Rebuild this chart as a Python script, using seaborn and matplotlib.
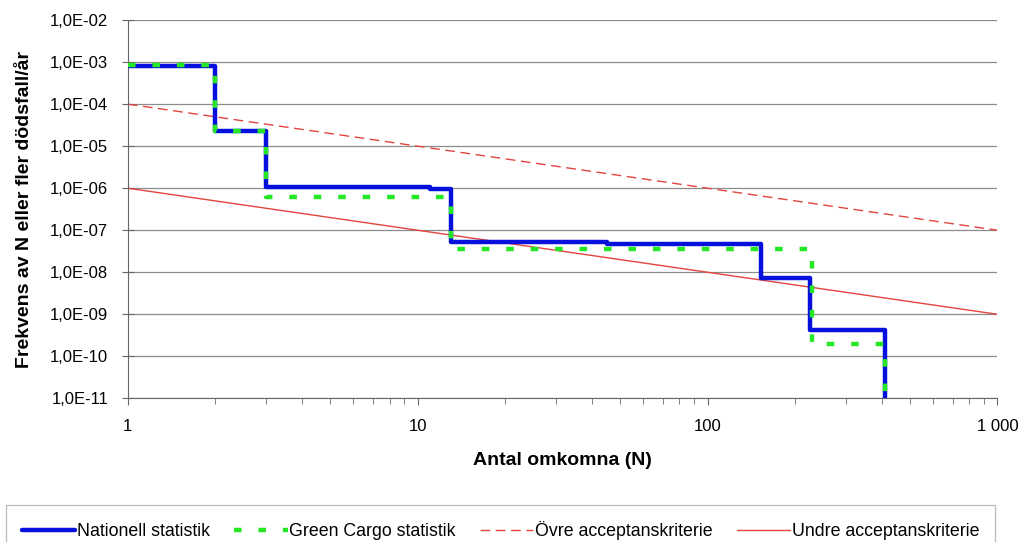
"""
plot.py — F/N-kurva: nationell statistik och Green Cargo mot acceptanskriterier.
"""

import matplotlib
matplotlib.use("Agg")
import matplotlib.pyplot as plt
from matplotlib.ticker import FixedLocator, FuncFormatter, LogLocator, NullFormatter
import pandas as pd
import seaborn as sns


# ─────────────────────────────────────────────────────────────────────────────
# DATA
# ─────────────────────────────────────────────────────────────────────────────

nationell_n = [1, 2, 3, 11, 13, 45, 153, 225, 408]
nationell_f = [8.0e-4, 2.3e-5, 1.05e-6, 9.5e-7, 5.2e-8, 4.6e-8, 7.5e-9, 4.3e-10, 1e-13]

green_n = [1, 2, 3, 13, 230, 408]
green_f = [8.5e-4, 2.3e-5, 6.2e-7, 3.6e-8, 2.0e-10, 1e-13]

kriterie_n = [1, 1000]
ovre_f = [1e-4, 1e-7]
undre_f = [1e-6, 1e-9]

x_ticks = [1, 10, 100, 1000]
x_ticklabels = ["1", "10", "100", "1 000"]
y_ticks = [10.0 ** e for e in range(-11, -1)]


# ─────────────────────────────────────────────────────────────────────────────
# PLOT
# ─────────────────────────────────────────────────────────────────────────────

sns.set_theme(style="white")
plt.rcParams["font.family"] = ["Liberation Sans", "DejaVu Sans"]
plt.rcParams["text.color"] = "black"
plt.rcParams["axes.labelcolor"] = "black"
plt.rcParams["xtick.labelcolor"] = "black"
plt.rcParams["ytick.labelcolor"] = "black"

fig, ax = plt.subplots(figsize=(10.22, 5.42), dpi=100)
fig.subplots_adjust(left=0.125, right=0.976, top=0.963, bottom=0.265)

nat = pd.DataFrame({"N": nationell_n, "F": nationell_f})
gc = pd.DataFrame({"N": green_n, "F": green_f})
krit = pd.DataFrame({"N": kriterie_n, "ovre": ovre_f, "undre": undre_f})

sns.lineplot(data=krit, x="N", y="ovre", ax=ax, color="#E2453F", lw=1.0,
             linestyle=(0, (7, 4)), label="Övre acceptanskriterie", zorder=2)
sns.lineplot(data=krit, x="N", y="undre", ax=ax, color="#E2453F", lw=1.0,
             label="Undre acceptanskriterie", zorder=2)
sns.lineplot(data=nat, x="N", y="F", ax=ax, color="#0610DC", lw=3.2,
             drawstyle="steps-post", sort=False, estimator=None,
             label="Nationell statistik", zorder=3)
sns.lineplot(data=gc, x="N", y="F", ax=ax, color="#25E825", lw=3.2,
             drawstyle="steps-post", sort=False, estimator=None,
             linestyle=(0, (1.7, 3.8)), label="Green Cargo statistik", zorder=4)

ax.set_xscale("log")
ax.set_yscale("log")
ax.set_xlim(1, 1000)
ax.set_ylim(1e-11, 1e-2)

ax.xaxis.set_major_locator(FixedLocator(x_ticks))
ax.xaxis.set_major_formatter(FuncFormatter(
    lambda v, p: x_ticklabels[x_ticks.index(round(v))] if round(v) in x_ticks else ""))
ax.xaxis.set_minor_locator(LogLocator(base=10, subs=range(2, 10)))
ax.xaxis.set_minor_formatter(NullFormatter())
ax.yaxis.set_major_locator(FixedLocator(y_ticks))
ax.yaxis.set_major_formatter(FuncFormatter(lambda v, p: f"{v:.1E}".replace(".", ",")))
ax.yaxis.set_minor_locator(LogLocator(base=10, subs=range(2, 10)))
ax.yaxis.set_minor_formatter(NullFormatter())

ax.tick_params(bottom=True, left=True, which="both", color="#666666")
ax.tick_params(axis="x", which="major", direction="out", length=5, width=0.8,
               labelsize=12, pad=10)
ax.tick_params(axis="x", which="minor", direction="out", length=4, width=0.6)
ax.tick_params(axis="y", which="major", direction="inout", length=8, width=0.8,
               labelsize=12, pad=10)
ax.tick_params(axis="y", which="minor", direction="in", length=4, width=0.6)

ax.grid(axis="y", which="major", color="#8c8c8c", lw=0.9)
for side in ["top", "right"]:
    ax.spines[side].set_visible(False)
for side in ["left", "bottom"]:
    ax.spines[side].set_color("#666666")
    ax.spines[side].set_linewidth(0.8)

ax.set_xlabel("Antal omkomna (N)", fontsize=14, fontweight="bold", labelpad=13)
ax.set_ylabel("Frekvens av N eller fler dödsfall/år", fontsize=14, fontweight="bold",
              labelpad=12)

handles, labels = ax.get_legend_handles_labels()
order = ["Nationell statistik", "Green Cargo statistik", "Övre acceptanskriterie",
         "Undre acceptanskriterie"]
hmap = dict(zip(labels, handles))
ax.get_legend().remove()
leg = fig.legend([hmap[k] for k in order], order, loc="upper left",
                 bbox_to_anchor=(0.006, 1 - 505 / 542), ncol=4,
                 fontsize=12.8, frameon=True, fancybox=False, handlelength=3.0,
                 handletextpad=0.1, columnspacing=1.35, borderpad=0.9,
                 borderaxespad=0)
leg.get_frame().set_edgecolor("#aaaaaa")
leg.get_frame().set_linewidth(0.9)

plt.savefig("out.png", dpi=100)
